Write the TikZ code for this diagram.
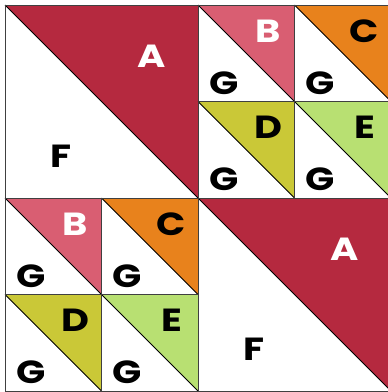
\documentclass[tikz,border=0pt]{standalone}
\usepackage{fontspec}
\newfontfamily\lblfont{Poppins}[FakeStretch=1.2]
\definecolor{cA}{HTML}{B5293F}
\definecolor{cB}{HTML}{D95E72}
\definecolor{cC}{HTML}{E8821C}
\definecolor{cD}{HTML}{CAC837}
\definecolor{cE}{HTML}{B8E072}
\tikzset{
  lbl/.style={font=\lblfont\fontsize{32}{32}\selectfont\bfseries, inner sep=0pt, anchor=center},
  cellline/.style={draw=black!75, line width=0.8pt},
  diag/.style={draw=black, line width=0.9pt}
}
\newcommand\smallsq[6]{%
  \fill[#3] (#1,#2) -- (#1+96.5,#2) -- (#1+96.5,#2+96.5) -- cycle;
  \draw[diag] (#1,#2) -- (#1+96.5,#2+96.5);
  \draw[cellline] (#1,#2) rectangle (#1+96.5,#2+96.5);
  \node[lbl,text=#5] (#6L) at (#1+70,#2+26) {#4};
  \node[lbl] (#6G) at (#1+26,#2+78) {G};
}
\newcommand\bigsq[3]{%
  \fill[cA] (#1,#2) -- (#1+193,#2) -- (#1+193,#2+193) -- cycle;
  \draw[diag] (#1,#2) -- (#1+193,#2+193);
  \draw[cellline] (#1,#2) rectangle (#1+193,#2+193);
  \node[lbl,text=white] (#3A) at (#1+147,#2+51) {A};
  \node[lbl] (#3F) at (#1+56,#2+151) {F};
}
\begin{document}
\begin{tikzpicture}[x=1pt,y=-1pt]
  \useasboundingbox (0,0) rectangle (388,392);
  \fill[white] (0,0) rectangle (388,392);
  \bigsq{5}{5}{tl}
  \bigsq{198}{198}{br}
  \smallsq{198}{5}{cB}{B}{white}{trB}
  \smallsq{294.5}{5}{cC}{C}{black}{trC}
  \smallsq{198}{101.5}{cD}{D}{black}{trD}
  \smallsq{294.5}{101.5}{cE}{E}{black}{trE}
  \smallsq{5}{198}{cB}{B}{white}{blB}
  \smallsq{101.5}{198}{cC}{C}{black}{blC}
  \smallsq{5}{294.5}{cD}{D}{black}{blD}
  \smallsq{101.5}{294.5}{cE}{E}{black}{blE}
\end{tikzpicture}
\end{document}
